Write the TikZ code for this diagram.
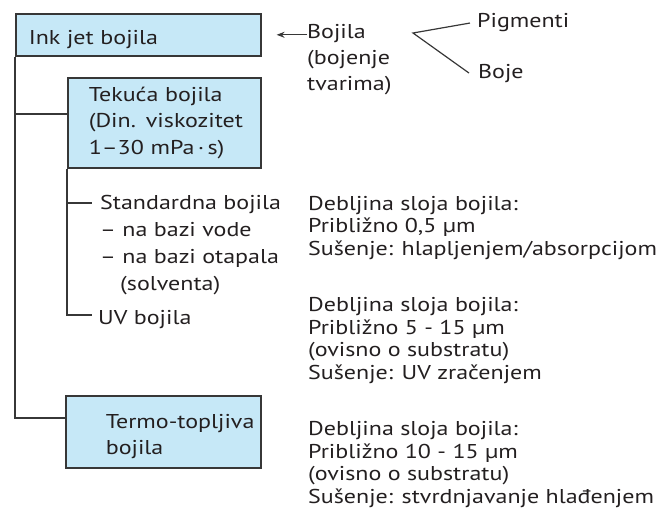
\documentclass[tikz,border=0pt]{standalone}
\usepackage{fontspec}
\setmainfont{PT Sans}[FakeStretch=1.2]
\usetikzlibrary{arrows.meta}
\definecolor{boxfill}{RGB}{198,232,247}
\definecolor{ink}{RGB}{35,31,32}
\definecolor{linec}{RGB}{55,55,55}
\begin{document}
\begin{tikzpicture}[x=1pt,y=-1pt,
  txt/.style={inner sep=0pt, anchor=base west, align=left, text=ink, font=\fontsize{20}{27}\selectfont},
  rtxt/.style={txt, font=\fontsize{20}{22.5}\selectfont},
  box/.style={draw=linec, line width=1.6pt, fill=boxfill, anchor=north west, inner sep=0pt,
    align=left, text=ink, font=\fontsize{20}{26.5}\selectfont},
  lpad/.style={execute at begin node={\leftskip=#1\relax}},
  conn/.style={draw=linec, line width=1.6pt},
  thin/.style={draw=linec, line width=1.2pt},
]
\useasboundingbox (0,0) rectangle (664,511);
% boxes
\node[box, text width=245pt, minimum height=42pt, lpad=13pt] (b1) at (15,13) {\rule{0pt}{24pt}Ink jet bojila};
\node[box, text width=193pt, minimum height=90pt, lpad=21pt] (b2) at (67,77) {Tekuća bojila\\(Din. viskozitet\\1–30 mPa\,·\,s)};
\node[box, text width=195pt, minimum height=72pt, lpad=40pt] (b3) at (65,395) {\rule{0pt}{24pt}Termo-topljiva\\bojila};
% top right texts
\node[txt, font=\fontsize{20}{26}\selectfont] (bojila) at (307,91) {Bojila\\(bojenje\\tvarima)};
\node[txt] (pig) at (477,28) {Pigmenti};
\node[txt] (boje) at (478,78) {Boje};
\coordinate (v) at (413,33);
\draw[thin] ([xshift=-7pt]pig.west) -- (v) -- ([xshift=-9pt]boje.west);
\draw[thin, -{Stealth[length=8pt,width=6pt]}] (bojila.west |- b1.east) -- ([xshift=15pt]b1.east);
% left texts
\node[txt] (std) at (100,290) {Standardna bojila\\– na bazi vode\\– na bazi otapala\\\hspace*{20pt}(solventa)};
\node[txt] (uv) at (98,324) {UV bojila};
% right texts
\node[rtxt] (r1) at (308,255) {Debljina sloja bojila:\\Približno 0,5 µm\\Sušenje: hlapljenjem/absorpcijom};
\node[rtxt] (r2) at (308,379) {Debljina sloja bojila:\\Približno 5 - 15 µm\\(ovisno o substratu)\\Sušenje: UV zračenjem};
\node[rtxt] (r3) at (308,503) {Debljina sloja bojila:\\Približno 10 - 15 µm\\(ovisno o substratu)\\Sušenje: stvrdnjavanje hlađenjem};
% tree connectors
\draw[conn] (b1.south west) |- ([yshift=9pt]b2.west);
\draw[conn] (b1.south west) |- ([yshift=14pt]b3.west);
\draw[conn] (b2.south west) |- ([xshift=-6pt,yshift=9pt]uv.base west);
\coordinate (sb) at ([yshift=87pt]std.base west);
\draw[conn] (b2.south west |- sb) -- ([xshift=-8pt]sb);
\end{tikzpicture}
\end{document}
